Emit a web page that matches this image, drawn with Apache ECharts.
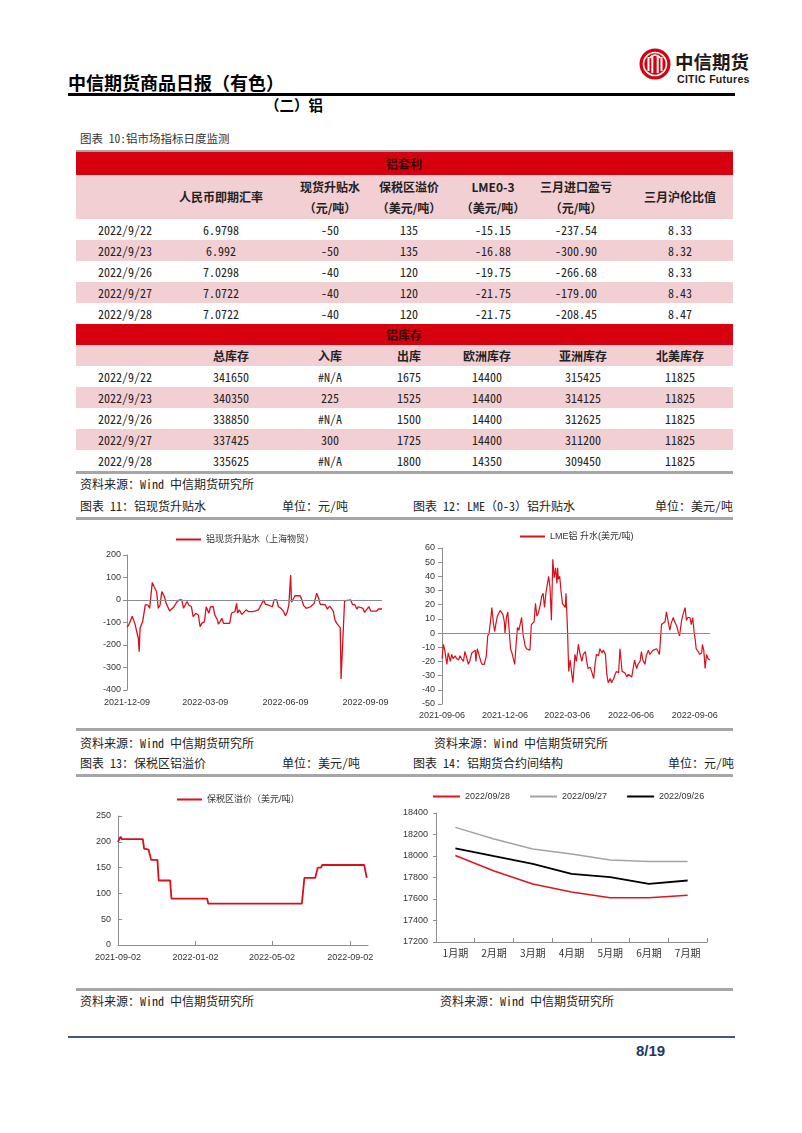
<!DOCTYPE html>
<html>
<head>
<meta charset="utf-8">
<script src="https://cdn.jsdelivr.net/npm/echarts@6/dist/echarts.min.js"></script>
<style>
  html, body { margin: 0; padding: 0; background: #fff; }
  #page {
    position: relative; width: 802px; height: 1133px; overflow: hidden;
    font-family: "Noto Sans Mono CJK SC", "Noto Sans CJK SC", "DejaVu Sans Mono", monospace;
    color: #222;
  }
  .t { position: absolute; white-space: nowrap; line-height: 1; }
  .mid { transform: translate(-50%, -50%); }
  .lft { transform: translateY(-50%); }
  .box { position: absolute; }
  .chart { position: absolute; }
  .rule { position: absolute; left: 76px; width: 657px; height: 3px; background: #a6a6a6; }
  .small { font-size: 12px; color: #222; }
</style>
</head>
<body>
<div id="page">
  <!-- 页眉 -->
  <svg class="box" style="left:639px;top:48px" width="34" height="34" viewBox="0 0 34 34">
    <circle cx="16" cy="16" r="15.5" fill="#d7000f"/>
    <circle cx="16" cy="16" r="11.5" fill="none" stroke="#fff" stroke-width="1.6"/>
    <rect x="8.5" y="9" width="2" height="14" fill="#fff"/>
    <rect x="12.3" y="7" width="2" height="18" fill="#fff"/>
    <rect x="17.7" y="7" width="2" height="18" fill="#fff"/>
    <rect x="21.5" y="9" width="2" height="14" fill="#fff"/>
    <path d="M10.5 10 Q16 4 21.5 10" fill="none" stroke="#fff" stroke-width="1.4"/>
  </svg>
  <div class="t lft" style="left:675px;top:61px;font-family:'Noto Sans CJK SC';font-weight:700;font-size:18.5px;color:#231815">中信期货</div>
  <div class="t lft" style="left:677px;top:79px;font-family:'Liberation Sans';font-weight:700;font-size:10.5px;letter-spacing:0.3px;color:#231815">CITIC Futures</div>
  <div class="t lft" style="left:68px;top:82px;font-family:'Noto Sans CJK SC';font-weight:700;font-size:18px;color:#000">中信期货商品日报（有色）</div>
  <div class="box" style="left:68px;top:93px;width:667px;height:3px;background:#000"></div>
  <div class="t lft" style="left:265px;top:105px;font-family:'Noto Sans CJK SC';font-weight:700;font-size:14.5px;color:#000">（二）铝</div>
  <div class="t lft small" style="left:80px;top:139px;font-size:11.5px;color:#333">图表 10:铝市场指标日度监测</div>

  <!-- 表格下方与图表标题 -->
  <div class="rule" style="top:471px"></div>
  <div class="t lft small" style="left:80px;top:484px">资料来源：Wind 中信期货研究所</div>
  <div class="t lft small" style="left:80px;top:506px">图表 11：铝现货升贴水</div>
  <div class="t lft small" style="left:282px;top:506px">单位：元/吨</div>
  <div class="t lft small" style="left:413px;top:506px">图表 12：LME（0-3）铝升贴水</div>
  <div class="t lft small" style="left:655px;top:506px">单位：美元/吨</div>
  <div class="rule" style="top:517px"></div>

  <div id="c11" class="chart" style="left:70px;top:525px;width:330px;height:200px"></div>
  <div id="c12" class="chart" style="left:410px;top:525px;width:330px;height:200px"></div>

  <div class="rule" style="top:728px"></div>
  <div class="t lft small" style="left:80px;top:743px">资料来源：Wind 中信期货研究所</div>
  <div class="t lft small" style="left:434px;top:743px">资料来源：Wind 中信期货研究所</div>
  <div class="t lft small" style="left:80px;top:763px">图表 13：保税区铝溢价</div>
  <div class="t lft small" style="left:282px;top:763px">单位：美元/吨</div>
  <div class="t lft small" style="left:413px;top:763px">图表 14：铝期货合约间结构</div>
  <div class="t lft small" style="left:668px;top:763px">单位：元/吨</div>
  <div class="rule" style="top:774px"></div>

  <div id="c13" class="chart" style="left:70px;top:780px;width:330px;height:190px"></div>
  <div id="c14" class="chart" style="left:400px;top:780px;width:340px;height:190px"></div>

  <div class="rule" style="top:988px"></div>
  <div class="t lft small" style="left:80px;top:1001px">资料来源：Wind 中信期货研究所</div>
  <div class="t lft small" style="left:440px;top:1001px">资料来源：Wind 中信期货研究所</div>

  <!-- 页脚 -->
  <div class="box" style="left:68px;top:1036px;width:667px;height:2px;background:#40587f"></div>
  <div class="t lft" style="left:636px;top:1050px;font-family:'Liberation Sans';font-weight:700;font-size:15px;color:#1f3864">8/19</div>
</div>

<script>
// ---------- 表格数据 ----------
const tradeDates = ['2022/9/22', '2022/9/23', '2022/9/26', '2022/9/27', '2022/9/28'];

const arbHeads = ['', '人民币即期汇率', '现货升贴水|（元/吨）', '保税区溢价|（美元/吨）', 'LME0-3|（美元/吨）', '三月进口盈亏|（元/吨）', '三月沪伦比值'];
const cnyRate = ['6.9798', '6.992', '7.0298', '7.0722', '7.0722'];
const spotPremium = ['-50', '-50', '-40', '-40', '-40'];
const bondedPremium = ['135', '135', '120', '120', '120'];
const lme03 = ['-15.15', '-16.88', '-19.75', '-21.75', '-21.75'];
const importProfit = ['-237.54', '-300.90', '-266.68', '-179.00', '-208.45'];
const shLmeRatio = ['8.33', '8.32', '8.33', '8.43', '8.47'];

const stockHeads = ['', '总库存', '入库', '出库', '欧洲库存', '亚洲库存', '北美库存'];
const totalStock = ['341650', '340350', '338850', '337425', '335625'];
const stockIn = ['#N/A', '225', '#N/A', '300', '#N/A'];
const stockOut = ['1675', '1525', '1500', '1725', '1800'];
const euStock = ['14400', '14400', '14400', '14400', '14350'];
const asiaStock = ['315425', '314125', '312625', '311200', '309450'];
const naStock = ['11825', '11825', '11825', '11825', '11825'];

// ---------- 图表数据 ----------
// 图表11 铝现货升贴水（上海物贸）
const spotDiffLegend = '铝现货升贴水（上海物贸）';
const spotDiffTicks = ['2021-12-09', '2022-03-09', '2022-06-09', '2022-09-09'];
const spotDiff = [
  ['2021-12-09', -120], ['2021-12-11', -111], ['2021-12-13', -104], ['2021-12-15', -72], ['2021-12-17', -67],
  ['2021-12-18', -104], ['2021-12-20', -110], ['2021-12-22', -170], ['2021-12-23', -230], ['2021-12-24', -126],
  ['2021-12-27', -96], ['2021-12-30', -22], ['2022-01-02', -22], ['2022-01-04', -37], ['2022-01-07', 78],
  ['2022-01-09', 60], ['2022-01-12', 37], ['2022-01-14', -37], ['2022-01-16', -22], ['2022-01-18', 37],
  ['2022-01-21', 15], ['2022-01-23', -15], ['2022-01-25', -10], ['2022-01-27', -49], ['2022-02-01', -30],
  ['2022-02-04', -10], ['2022-02-07', 0], ['2022-02-10', 0], ['2022-02-12', -37], ['2022-02-14', -30],
  ['2022-02-16', -7], ['2022-02-18', -22], ['2022-02-21', -30], ['2022-02-23', -74], ['2022-02-24', -81],
  ['2022-02-26', -59], ['2022-03-01', -67], ['2022-03-03', -119], ['2022-03-05', -104], ['2022-03-08', -96],
  ['2022-03-10', -30], ['2022-03-13', -59], ['2022-03-15', -30], ['2022-03-18', -30], ['2022-03-20', -67],
  ['2022-03-23', -89], ['2022-03-24', -107], ['2022-03-26', -96], ['2022-03-28', -81], ['2022-03-30', -104],
  ['2022-04-03', -104], ['2022-04-06', -104], ['2022-04-08', -59], ['2022-04-10', -59], ['2022-04-12', -52],
  ['2022-04-14', -15], ['2022-04-15', -59], ['2022-04-17', -44], ['2022-04-20', -64], ['2022-04-22', -64],
  ['2022-04-25', -44], ['2022-04-28', -52], ['2022-05-02', -52], ['2022-05-05', -49], ['2022-05-09', -44],
  ['2022-05-12', -22], ['2022-05-15', 0], ['2022-05-17', -19], ['2022-05-20', -22], ['2022-05-22', -30],
  ['2022-05-25', -30], ['2022-05-27', 0], ['2022-05-30', 0], ['2022-06-01', -30], ['2022-06-04', -37],
  ['2022-06-07', -52], ['2022-06-09', -70], ['2022-06-11', -55], ['2022-06-13', -22], ['2022-06-15', 111],
  ['2022-06-16', -10], ['2022-06-18', -4], ['2022-06-20', 19], ['2022-06-22', 19], ['2022-06-26', 19],
  ['2022-06-28', 0], ['2022-06-30', -25], ['2022-07-03', -37], ['2022-07-05', -37], ['2022-07-08', -30],
  ['2022-07-10', -37], ['2022-07-12', -15], ['2022-07-15', 30], ['2022-07-17', 10], ['2022-07-19', -19],
  ['2022-07-22', -19], ['2022-07-25', -22], ['2022-07-27', -40], ['2022-07-30', -27], ['2022-08-01', -25],
  ['2022-08-03', -49], ['2022-08-05', -89], ['2022-08-07', -104], ['2022-08-09', -96], ['2022-08-11', -123],
  ['2022-08-12', -351], ['2022-08-16', -4], ['2022-08-18', 0], ['2022-08-23', 0], ['2022-08-25', -19],
  ['2022-08-28', -22], ['2022-08-30', -40], ['2022-09-01', -30], ['2022-09-03', -30], ['2022-09-06', -37],
  ['2022-09-08', -55], ['2022-09-10', -44], ['2022-09-13', -30], ['2022-09-15', -49], ['2022-09-19', -49],
  ['2022-09-22', -49], ['2022-09-24', -40], ['2022-09-26', -37], ['2022-09-28', -40]
];

// 图表12 LME铝 升水
const lmeLegend = 'LME铝 升水(美元/吨)';
const lmeTicks = ['2021-09-06', '2021-12-06', '2022-03-06', '2022-06-06', '2022-09-06'];
const lmeSpread = [
  ['2021-09-06', -18], ['2021-09-08', -8], ['2021-09-10', -12], ['2021-09-13', -22], ['2021-09-15', -14],
  ['2021-09-18', -20], ['2021-09-20', -15], ['2021-09-22', -18], ['2021-09-25', -16], ['2021-09-27', -18],
  ['2021-09-30', -19], ['2021-10-02', -16], ['2021-10-04', -18], ['2021-10-07', -20], ['2021-10-09', -13],
  ['2021-10-12', -18], ['2021-10-14', -22], ['2021-10-16', -20], ['2021-10-19', -14], ['2021-10-21', -13],
  ['2021-10-24', -12], ['2021-10-25', -20], ['2021-10-27', -11], ['2021-10-29', -12], ['2021-11-01', -20],
  ['2021-11-03', -22], ['2021-11-06', -22], ['2021-11-09', -16], ['2021-11-11', -2], ['2021-11-13', 0],
  ['2021-11-15', 8], ['2021-11-17', 18], ['2021-11-19', 8], ['2021-11-21', 1], ['2021-11-23', 7],
  ['2021-11-25', 12], ['2021-11-27', 11], ['2021-11-29', 16], ['2021-12-01', 15], ['2021-12-03', 13],
  ['2021-12-05', 8], ['2021-12-06', 0], ['2021-12-08', 11], ['2021-12-10', 15], ['2021-12-12', 16],
  ['2021-12-14', -11], ['2021-12-16', -14], ['2021-12-18', -18], ['2021-12-20', -22], ['2021-12-22', -8],
  ['2021-12-24', 4], ['2021-12-26', 2], ['2021-12-28', 1], ['2021-12-30', 11], ['2022-01-01', -1],
  ['2022-01-03', -6], ['2022-01-04', -9], ['2022-01-06', -11], ['2022-01-08', -12], ['2022-01-11', -12],
  ['2022-01-13', 6], ['2022-01-15', 7], ['2022-01-17', 8], ['2022-01-19', 21], ['2022-01-21', 12],
  ['2022-01-23', 14], ['2022-01-25', 15], ['2022-01-26', 20], ['2022-01-28', 26], ['2022-01-30', 28],
  ['2022-02-01', 18], ['2022-02-03', 28], ['2022-02-05', 34], ['2022-02-07', 40], ['2022-02-09', 32],
  ['2022-02-11', 9], ['2022-02-13', 52], ['2022-02-15', 39], ['2022-02-17', 46], ['2022-02-19', 35],
  ['2022-02-20', 46], ['2022-02-21', 38], ['2022-02-23', 40], ['2022-02-25', 29], ['2022-02-27', 21],
  ['2022-03-01', 20], ['2022-03-03', 18], ['2022-03-04', 28], ['2022-03-06', 6], ['2022-03-08', -27],
  ['2022-03-10', -19], ['2022-03-12', -27], ['2022-03-14', -35], ['2022-03-16', -22], ['2022-03-17', -15],
  ['2022-03-19', -20], ['2022-03-22', -8], ['2022-03-24', -14], ['2022-03-27', -20], ['2022-03-29', -15],
  ['2022-04-01', -13], ['2022-04-03', -20], ['2022-04-05', -25], ['2022-04-08', -24], ['2022-04-10', -27],
  ['2022-04-13', -32], ['2022-04-15', -22], ['2022-04-17', -15], ['2022-04-20', -16], ['2022-04-22', -11],
  ['2022-04-25', -14], ['2022-04-27', -12], ['2022-04-30', -15], ['2022-05-02', -29], ['2022-05-04', -35],
  ['2022-05-07', -32], ['2022-05-09', -35], ['2022-05-12', -32], ['2022-05-14', -29], ['2022-05-16', -27],
  ['2022-05-19', -28], ['2022-05-21', -11], ['2022-05-24', -27], ['2022-05-26', -26], ['2022-05-28', -28],
  ['2022-05-31', -31], ['2022-06-02', -29], ['2022-06-04', -29], ['2022-06-07', -31], ['2022-06-09', -32],
  ['2022-06-11', -19], ['2022-06-14', -25], ['2022-06-16', -22], ['2022-06-19', -20], ['2022-06-21', -13],
  ['2022-06-23', -19], ['2022-06-26', -22], ['2022-06-28', -16], ['2022-07-01', -12], ['2022-07-03', -15],
  ['2022-07-05', -14], ['2022-07-08', -12], ['2022-07-10', -12], ['2022-07-13', -11], ['2022-07-15', -13],
  ['2022-07-17', -15], ['2022-07-20', 6], ['2022-07-22', 5], ['2022-07-25', 8], ['2022-07-27', 15],
  ['2022-07-29', 14], ['2022-08-01', 2], ['2022-08-03', 7], ['2022-08-06', 11], ['2022-08-08', 8],
  ['2022-08-11', 5], ['2022-08-13', 1], ['2022-08-15', -2], ['2022-08-18', 9], ['2022-08-20', 13],
  ['2022-08-23', 18], ['2022-08-25', 9], ['2022-08-27', 11], ['2022-08-30', 11], ['2022-09-01', 6],
  ['2022-09-03', 11], ['2022-09-05', 1], ['2022-09-07', -6], ['2022-09-08', -11], ['2022-09-11', -13],
  ['2022-09-13', -15], ['2022-09-16', -14], ['2022-09-17', -8], ['2022-09-19', -12], ['2022-09-21', -25],
  ['2022-09-23', -15], ['2022-09-25', -18], ['2022-09-28', -19]
];

// 图表13 保税区溢价
const bondedLegend = '保税区溢价（美元/吨）';
const bondedTicks = ['2021-09-02', '2022-01-02', '2022-05-02', '2022-09-02'];
const bondedSeries = [
  ['2021-09-02', 200], ['2021-09-06', 210], ['2021-09-08', 205], ['2021-10-11', 205], ['2021-10-13', 187],
  ['2021-10-20', 185], ['2021-10-22', 176], ['2021-10-24', 165], ['2021-11-03', 165], ['2021-11-05', 125],
  ['2021-11-23', 125], ['2021-11-25', 90], ['2022-01-20', 90], ['2022-01-22', 80], ['2022-06-18', 80],
  ['2022-06-22', 130], ['2022-07-09', 130], ['2022-07-13', 150], ['2022-07-18', 150], ['2022-07-20', 155],
  ['2022-09-24', 155], ['2022-09-28', 130]
];

// 图表14 合约间结构
const contracts = ['1月期', '2月期', '3月期', '4月期', '5月期', '6月期', '7月期'];
const curve0928 = [18005, 17860, 17740, 17665, 17612, 17612, 17636];
const curve0927 = [18266, 18158, 18066, 18019, 17963, 17948, 17948];
const curve0926 = [18072, 17998, 17926, 17834, 17803, 17741, 17772];

// ---------- 表格绘制 ----------
const page = document.getElementById('page');
const RED = '#d7000f';
const PINK = '#f2cfd3';

function addBox(x, y, w, h, bg) {
  const d = document.createElement('div');
  d.className = 'box';
  d.style.cssText = `left:${x}px;top:${y}px;width:${w}px;height:${h}px;background:${bg}`;
  page.appendChild(d);
}
function addText(x, y, str, css) {
  const d = document.createElement('div');
  d.className = 't mid';
  d.style.cssText = `left:${x}px;top:${y}px;` + (css || '');
  d.textContent = str;
  page.appendChild(d);
}

const HEAD_CSS = "font-family:'Noto Sans CJK SC';font-weight:700;font-size:12px;color:#222";
const CELL_CSS = 'font-size:12px;color:#222';

function drawTable(t) {
  addBox(76, t.top, 657, t.redH, RED);
  addText(404, t.top + t.redH / 2, t.title, HEAD_CSS + ';color:#3a0606');
  const headTop = t.top + t.redH;
  addBox(76, headTop, 657, t.headH, PINK);
  t.heads.forEach((h, i) => {
    const parts = h.split('|');
    if (parts.length === 1) {
      addText(t.centers[i], headTop + t.headH / 2, parts[0], HEAD_CSS);
    } else {
      addText(t.centers[i], headTop + t.headH / 2 - 10.5, parts[0], HEAD_CSS);
      addText(t.centers[i], headTop + t.headH / 2 + 10.5, parts[1], HEAD_CSS);
    }
  });
  const rowsTop = headTop + t.headH;
  tradeDates.forEach((d, r) => {
    const y = rowsTop + r * 21;
    if (r % 2 === 1) addBox(76, y, 657, 21, PINK);
    addText(t.centers[0], y + 10.5, d, CELL_CSS);
    t.cols.forEach((col, c) => addText(t.centers[c + 1], y + 10.5, col[r], CELL_CSS));
  });
}

addBox(76, 150, 657, 2, '#a6a6a6');
drawTable({
  top: 152, redH: 23, headH: 44, title: '铝套利', heads: arbHeads,
  centers: [125, 221, 330, 409, 493, 576, 680],
  cols: [cnyRate, spotPremium, bondedPremium, lme03, importProfit, shLmeRatio]
});
drawTable({
  top: 324, redH: 21, headH: 21, title: '铝库存', heads: stockHeads,
  centers: [125, 231, 330, 409, 487, 583, 680],
  cols: [totalStock, stockIn, stockOut, euStock, asiaStock, naStock]
});

// ---------- 图表 ----------
const AXIS_GRAY = '#8c8c8c';
const LINE_RED = '#d8101c';
const LABEL = { fontSize: 9, color: '#333', fontFamily: 'Liberation Sans, Arial, sans-serif' };
const LEGEND_TEXT = { fontSize: 9, color: '#333', fontFamily: "'Liberation Sans', 'Noto Sans CJK SC'" };

const ts = s => echarts.number.parseDate(s).getTime();
const fmtDate = v => {
  const d = new Date(v);
  return d.getFullYear() + '-' + String(d.getMonth() + 1).padStart(2, '0') + '-' + String(d.getDate()).padStart(2, '0');
};

// 日期用时间戳放在数值轴上，这样可以自定义刻度位置
function timeChart(el, cfg) {
  const chart = echarts.init(document.getElementById(el));
  const tickVals = cfg.ticks.map(ts);
  chart.setOption({
    animation: false,
    grid: cfg.grid,
    legend: {
      left: cfg.legendLeft, top: cfg.legendTop, padding: 0,
      icon: 'rect', itemWidth: 25, itemHeight: 2, textStyle: LEGEND_TEXT
    },
    xAxis: {
      type: 'value',
      min: ts(cfg.min), max: ts(cfg.max),
      axisLine: { show: cfg.bottomLine, onZero: false, lineStyle: { color: AXIS_GRAY } },
      axisTick: { show: cfg.bottomLine, inside: true, length: 4, customValues: tickVals, lineStyle: { color: AXIS_GRAY } },
      splitLine: { show: false },
      axisLabel: Object.assign({ customValues: tickVals, formatter: fmtDate, margin: cfg.labelMargin, hideOverlap: false, showMinLabel: true, showMaxLabel: true }, LABEL)
    },
    yAxis: {
      type: 'value', min: cfg.yMin, max: cfg.yMax, interval: cfg.yStep,
      axisLine: { show: true, lineStyle: { color: AXIS_GRAY } },
      axisTick: { show: true, inside: cfg.tickInside, length: 4, lineStyle: { color: AXIS_GRAY } },
      splitLine: { show: false },
      axisLabel: Object.assign({ margin: cfg.yLabelMargin }, LABEL)
    },
    series: [{
      type: 'line', name: cfg.name, data: cfg.data.map(p => [ts(p[0]), p[1]]), symbol: 'none',
      lineStyle: { color: LINE_RED, width: cfg.width }, itemStyle: { color: LINE_RED },
      markLine: cfg.zeroLine ? {
        silent: true, symbol: 'none', label: { show: false }, animation: false,
        lineStyle: { color: AXIS_GRAY, width: 1, type: 'solid' },
        data: [{ yAxis: 0 }]
      } : undefined
    }]
  });
}

timeChart('c11', {
  grid: { left: 57, right: 18, top: 30, bottom: 35 },
  legendLeft: 106, legendTop: 10, name: spotDiffLegend, data: spotDiff,
  ticks: spotDiffTicks, min: '2021-12-09', max: '2022-09-28',
  yMin: -400, yMax: 200, yStep: 100, tickInside: false, yLabelMargin: 6,
  bottomLine: false, zeroLine: true, labelMargin: 8, width: 1.3
});

timeChart('c12', {
  grid: { left: 32, right: 30, top: 23, bottom: 21 },
  legendLeft: 110, legendTop: 7, name: lmeLegend, data: lmeSpread,
  ticks: lmeTicks, min: '2021-09-06', max: '2022-09-28',
  yMin: -50, yMax: 60, yStep: 10, tickInside: false, yLabelMargin: 7,
  bottomLine: false, zeroLine: true, labelMargin: 7, width: 1.2
});

timeChart('c13', {
  grid: { left: 48, right: 32, top: 36, bottom: 25 },
  legendLeft: 107, legendTop: 15, name: bondedLegend, data: bondedSeries,
  ticks: bondedTicks, min: '2021-09-02', max: '2022-09-30',
  yMin: 0, yMax: 250, yStep: 50, tickInside: true, yLabelMargin: 7,
  bottomLine: true, zeroLine: false, labelMargin: 8, width: 1.8
});

// 图表14
const c14 = echarts.init(document.getElementById('c14'));
c14.setOption({
  animation: false,
  grid: { left: 33, right: 33, top: 33, bottom: 28 },
  legend: {
    left: 33, top: 12, padding: 0, itemGap: 20,
    icon: 'rect', itemWidth: 27, itemHeight: 2,
    textStyle: { fontSize: 9, color: '#333', fontFamily: 'Liberation Sans, Arial, sans-serif' }
  },
  xAxis: {
    type: 'category', data: contracts, boundaryGap: true,
    axisLine: { lineStyle: { color: AXIS_GRAY } },
    axisTick: { show: true, inside: true, length: 4, lineStyle: { color: AXIS_GRAY } },
    axisLabel: { fontSize: 10, color: '#333', margin: 6, fontFamily: 'Noto Sans CJK SC' }
  },
  yAxis: {
    type: 'value', min: 17200, max: 18400, interval: 200,
    axisLine: { show: true, lineStyle: { color: AXIS_GRAY } },
    axisTick: { show: true, length: 3, lineStyle: { color: AXIS_GRAY } },
    splitLine: { show: false },
    axisLabel: Object.assign({ margin: 8, formatter: v => String(v) }, LABEL)
  },
  series: [
    { type: 'line', name: '2022/09/28', data: curve0928, symbol: 'none', lineStyle: { color: '#e0141e', width: 1.5 }, itemStyle: { color: '#e0141e' } },
    { type: 'line', name: '2022/09/27', data: curve0927, symbol: 'none', lineStyle: { color: '#a3a3a3', width: 1.5 }, itemStyle: { color: '#a3a3a3' } },
    { type: 'line', name: '2022/09/26', data: curve0926, symbol: 'none', lineStyle: { color: '#000000', width: 1.8 }, itemStyle: { color: '#000000' } }
  ]
});
</script>
</body>
</html>
